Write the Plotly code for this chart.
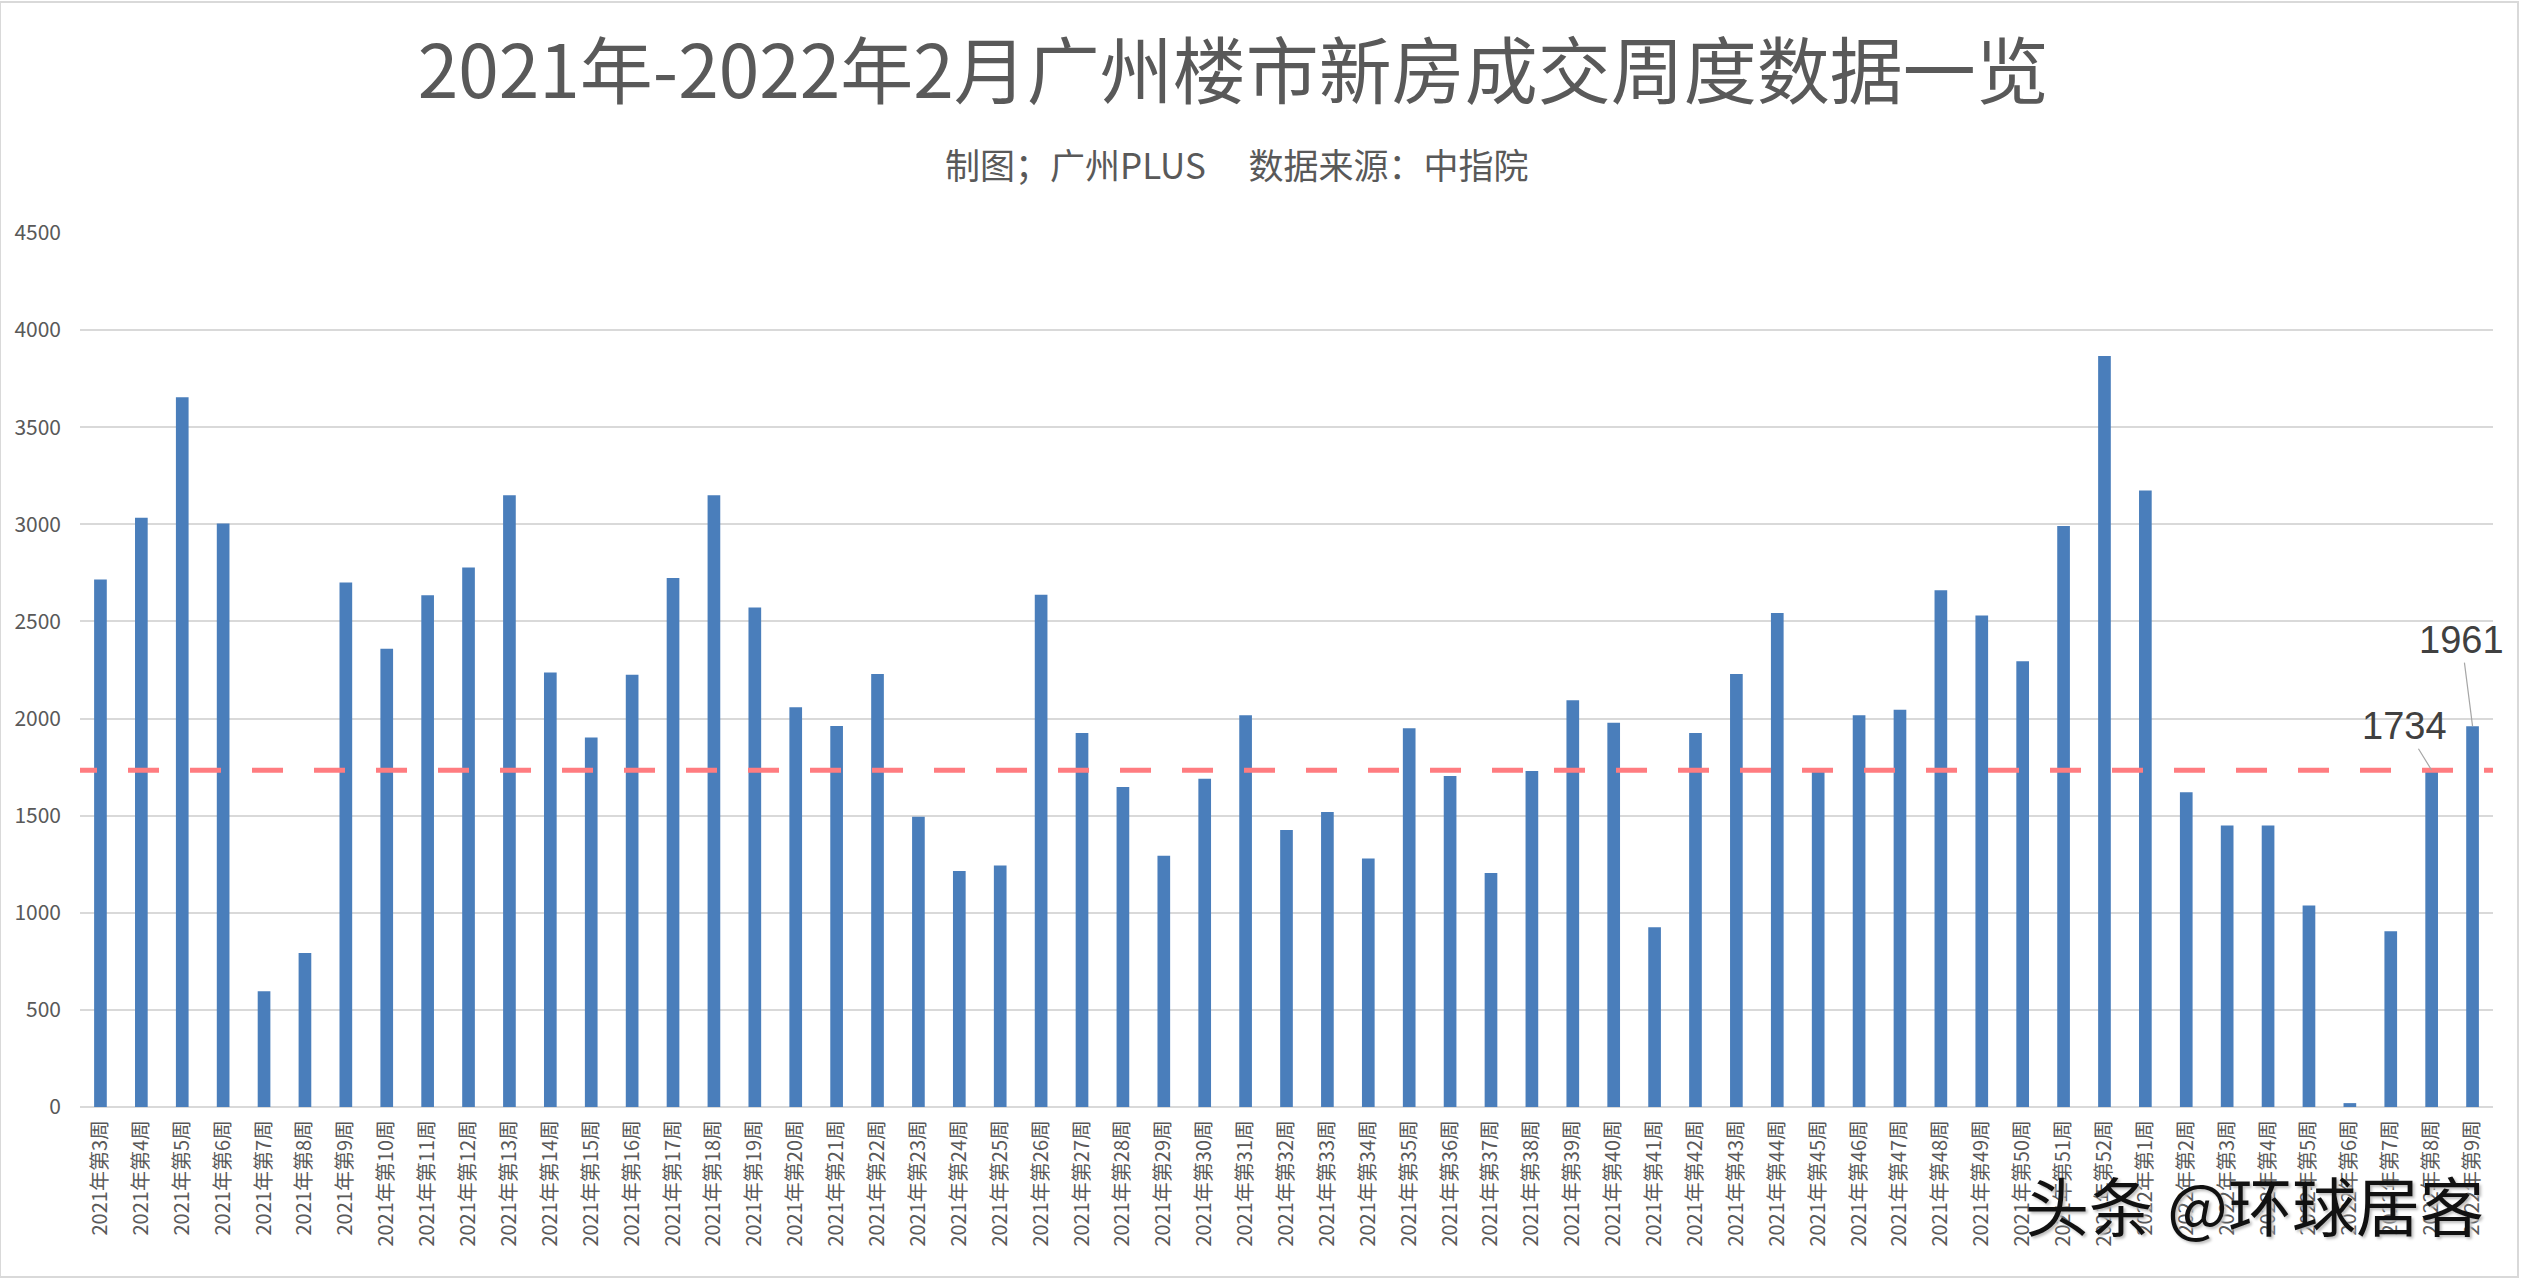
import plotly.graph_objects as go

# ---- data ----
weeks_2021 = list(range(3, 53))
weeks_2022 = list(range(1, 10))
labels = [f"2021年第{w}周" for w in weeks_2021] + [f"2022年第{w}周" for w in weeks_2022]

values_2021 = [2716, 3034, 3654, 3004, 596, 793, 2700, 2359, 2635, 2778,
               3150, 2237, 1902, 2226, 2724, 3150, 2572, 2058, 1962, 2229,
               1495, 1215, 1243, 2637, 1925, 1648, 1294, 1690, 2017, 1426,
               1519, 1280, 1950, 1704, 1205, 1730, 2094, 1978, 925, 1925,
               2229, 2543, 1740, 2017, 2045, 2661, 2531, 2295, 2992, 3867]
values_2022 = [3174, 1620, 1449, 1449, 1038, 20, 905, 1734, 1961]
values = values_2021 + values_2022

ref_level = 1734
labelled = {57: "1734", 58: "1961"}

title_text = "2021年-2022年2月广州楼市新房成交周度数据一览"
subtitle_text = "制图；广州PLUS　 数据来源：中指院"
watermark_text = "头条 @环球居客"

FONT = "Noto Sans CJK SC, Noto Sans, sans-serif"
x_idx = list(range(len(labels)))

fig = go.Figure()
fig.add_trace(go.Bar(x=x_idx, y=values, marker=dict(color="#4A7EBB", line=dict(width=0)),
                     showlegend=False))

# dashed reference line (clipped to plot area)
fig.add_trace(go.Scatter(x=[-0.842, len(labels) - 0.5], y=[ref_level, ref_level], mode="lines",
                         line=dict(color="#FF7C80", width=5, dash="31px,31px"),
                         showlegend=False, hoverinfo="skip"))

fig.update_layout(
    width=2522, height=1279,
    margin=dict(l=80, r=29, t=233, b=172),
    paper_bgcolor="white", plot_bgcolor="white",
    bargap=0.69,
    font=dict(family=FONT, color="#595959"),
    title=dict(text=title_text, x=0.489, xanchor="center", xref="container",
               y=1 - 72 / 1279, yanchor="middle", yref="container",
               font=dict(family=FONT, size=73, color="#595959")),
    xaxis=dict(range=[-0.5, len(labels) - 0.5], tickmode="array", tickvals=x_idx, ticktext=labels,
               tickangle=-90, tickfont=dict(size=20, color="#595959"), showgrid=False,
               zeroline=False, showline=False, ticks="", ticklabelstandoff=8, fixedrange=True),
    yaxis=dict(range=[0, 4500], dtick=500, tickfont=dict(size=21, color="#595959"),
               showgrid=True, gridcolor="#D9D9D9", gridwidth=2,
               zeroline=True, zerolinecolor="#D9D9D9", zerolinewidth=2,
               showline=False, ticks="", ticklabelstandoff=18),
)

fig.add_annotation(text=subtitle_text, xref="paper", yref="paper", x=0.4795, y=1.079,
                   xanchor="center", yanchor="middle",
                   showarrow=False, font=dict(family=FONT, size=35, color="#595959"))

# data labels with leader lines
offsets = {57: (-27, -44), 58: (-11, -86)}
for i, txt in labelled.items():
    ax, ay = offsets[i]
    fig.add_annotation(x=i, y=values[i], text=txt, showarrow=True, arrowhead=0,
                       arrowwidth=1.2, arrowcolor="#A6A6A6", ax=ax, ay=ay,
                       font=dict(family="Liberation Sans, Arial, sans-serif", size=38, color="#404040"))

fig.add_annotation(text=watermark_text, xref="paper", yref="paper", x=0.901, y=-0.110,
                   xanchor="center", yanchor="middle", showarrow=False,
                   font=dict(family=FONT, size=64, color="#111111", shadow="2px 2px 3px #BBBBBB"))

# outer border of the chart picture
fig.add_shape(type="rect", xref="paper", yref="paper",
              x0=-80 / 2413, x1=2438 / 2413, y0=-170 / 874, y1=1105 / 874,
              line=dict(color="#D9D9D9", width=2), layer="below")

fig.write_html("out.html", config={"displayModeBar": False},
               post_script="document.body.style.margin='0';")
